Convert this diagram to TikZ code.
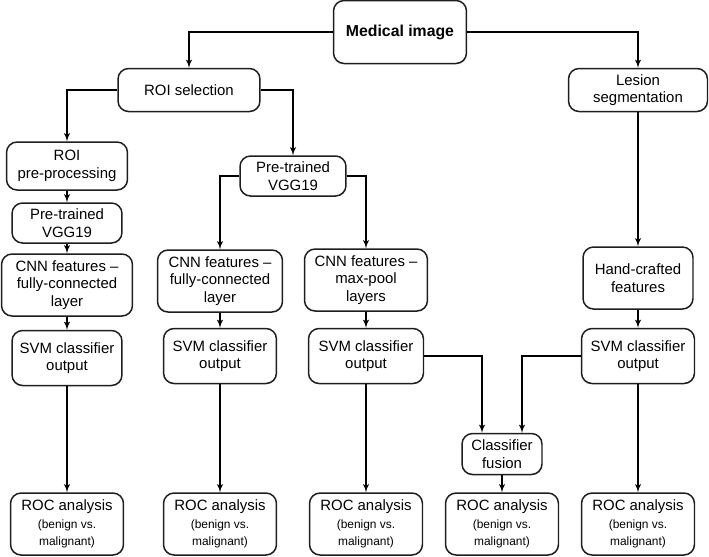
\documentclass[tikz,border=0pt]{standalone}
\usepackage{fontspec}
\setmainfont{Liberation Sans}
\usepackage{tikz}
\usetikzlibrary{arrows}
\definecolor{box_gray}{RGB}{30,30,30}
\newcommand{\rocsub}{\fontsize{6.8}{8}\selectfont}

\begin{document}
\begin{tikzpicture}[->,>=latex',line width=0.6pt,x=0.02cm,y=-0.02cm]
    \tikzstyle{box}=[draw=box_gray, line width=0.85pt, rounded corners=6pt, align=center, inner sep=1pt, fill=white, text=black, font=\fontsize{8.5}{10}\selectfont]
    \tikzstyle{roc}=[box, minimum width=2.26cm, minimum height=1.24cm]
    \tikzstyle{svm}=[box, minimum width=2.26cm, minimum height=1.1cm]
    \tikzstyle{cnn}=[box, minimum width=2.5cm, minimum height=1.24cm]
    \tikzstyle{hv}=[to path={-| (\tikztotarget)}]
    \useasboundingbox (0,0) rectangle (709,556);

    \node[box, minimum width=2.66cm, minimum height=1.26cm, font=\fontsize{9}{10}\bfseries] (med) at (400,32) {Medical image};
    \node[box, minimum width=2.84cm, minimum height=0.86cm] (sel) at (189,90) {ROI selection};
    \node[box, minimum width=2.78cm, minimum height=0.86cm] (les) at (638,90) {Lesion\\segmentation};

    \node[box, minimum width=2.42cm, minimum height=0.96cm] (pre) at (67,166) {ROI\\pre-processing};
    \node[box, minimum width=2.2cm, minimum height=0.8cm] (vgga) at (67,223) {Pre-trained\\VGG19};
    \node[cnn, minimum width=2.62cm] (cnna) at (67,285) {CNN features --\\fully-connected\\layer};
    \node[svm, minimum width=2.2cm] (svma) at (67,358) {SVM classifier\\output};

    \node[box, minimum width=2.12cm, minimum height=0.8cm] (vggb) at (293,176) {Pre-trained\\VGG19};
    \node[cnn] (cnnb) at (220,281) {CNN features --\\fully-connected\\layer};
    \node[svm] (svmb) at (220,356) {SVM classifier\\output};
    \node[cnn, minimum width=2.46cm] (cnnc) at (366,280) {CNN features --\\max-pool\\layers};
    \node[svm, minimum width=2.3cm] (svmc) at (366,356) {SVM classifier\\output};

    \node[cnn, minimum width=2.2cm] (hand) at (638,278) {Hand-crafted\\features};
    \node[svm] (svme) at (638,356) {SVM classifier\\output};
    \node[box, minimum width=1.6cm, minimum height=0.82cm] (fus) at (502,454) {Classifier\\fusion};

    \node[roc] (roca) at (67,524)  {ROC analysis\\\rocsub(benign vs.\\\rocsub malignant)};
    \node[roc] (rocb) at (220,524) {ROC analysis\\\rocsub(benign vs.\\\rocsub malignant)};
    \node[roc] (rocc) at (366,524) {ROC analysis\\\rocsub(benign vs.\\\rocsub malignant)};
    \node[roc] (rocd) at (502,524) {ROC analysis\\\rocsub(benign vs.\\\rocsub malignant)};
    \node[roc] (roce) at (638,524) {ROC analysis\\\rocsub(benign vs.\\\rocsub malignant)};

    \path
     (med) edge[hv] (sel)
     (med) edge[hv] (les)
     (sel) edge[hv] (pre)
     (sel) edge[hv] (vggb)
     (pre) edge (vgga)
     (vgga) edge (cnna)
     (cnna) edge (svma)
     (svma) edge (roca)
     (vggb) edge[hv] (cnnb)
     (vggb) edge[hv] (cnnc)
     (cnnb) edge (svmb)
     (svmb) edge (rocb)
     (cnnc) edge (svmc)
     (svmc) edge (rocc)
     (les) edge (hand)
     (hand) edge (svme)
     (svme) edge (roce)
     (svmc) edge[hv] ([xshift=-0.4cm]fus.north)
     (svme) edge[hv] ([xshift=0.4cm]fus.north)
     (fus) edge (rocd)
     ;
\end{tikzpicture}
\end{document}
